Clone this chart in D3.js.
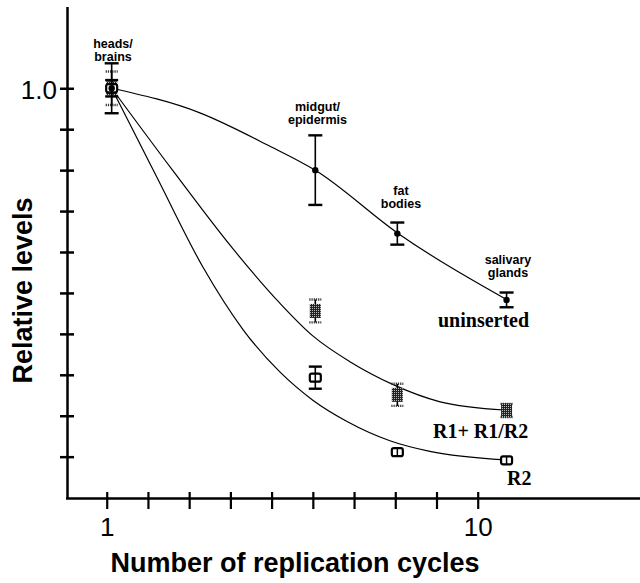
<!DOCTYPE html>
<html>
<head>
<meta charset="utf-8">
<script src="https://cdn.jsdelivr.net/npm/d3@7"></script>
<style>
  body { margin: 0; background: #fff; }
  svg { display: block; }
</style>
</head>
<body>
<svg id="chart" width="640" height="583"></svg>
<script>
// tissues and the replication cycles they sit at
const tissues = ["heads/brains", "midgut/epidermis", "fat bodies", "salivary glands"];
const cycles = [1.12, 6.06, 8.05, 10.7];

// measured relative levels (+/- error) per series
const uninsertedVals = [1.0, 0.80, 0.645, 0.483];
const uninsertedErr = [0.061, 0.085, 0.027, 0.018];
const r1Vals = [1.0, 0.456, 0.251, 0.213];
const r1Err = [0.041, 0.028, 0.027, 0.016];
const r2Vals = [1.0, 0.293, 0.111, 0.091];
const r2Err = [0.02, 0.027, 0, 0];

// fitted curves
const uninsertedFitX = [1.12, 3.26, 4.89, 6.07, 8.06, 10.73];
const uninsertedFitY = [1.0, 0.940, 0.862, 0.799, 0.646, 0.482];
const r1FitX = [1.12, 2.61, 4.06, 5.20, 6.00, 6.90, 7.95, 9.09, 10.66];
const r1FitY = [1.0, 0.798, 0.608, 0.475, 0.395, 0.332, 0.276, 0.234, 0.214];
const r2FitX = [1.12, 2.22, 3.34, 4.31, 5.20, 6.00, 6.83, 7.87, 8.84, 10.66];
const r2FitY = [1.0, 0.782, 0.562, 0.410, 0.307, 0.238, 0.186, 0.139, 0.113, 0.092];

const xTicks = [1, 2, 3, 4, 5, 6, 7, 8, 9, 10];
const yTicks = [0.1, 0.2, 0.3, 0.4, 0.5, 0.6, 0.7, 0.8, 0.9, 1.0];

const zip = (xs, ys) => xs.map((d, i) => ({x: d, y: ys[i]}));

const buildVis = (svg_name) => {
    let chart = d3.select(svg_name);
    let x = d3.scaleLinear().domain([0, 14]).range([65.5, 642.6]);
    let y = d3.scaleLinear().domain([0, 1.2]).range([497.6, 6.4]);

    let defs = chart.append("defs");
    let pat = defs.append("pattern")
        .attr("id", "grain")
        .attr("width", 2).attr("height", 2)
        .attr("patternUnits", "userSpaceOnUse");
    pat.append("rect").attr("width", 2).attr("height", 2).attr("fill", "#222");
    pat.append("rect").attr("width", 1).attr("height", 1).attr("fill", "#bbb");

    // axes
    let y_axis = d3.axisLeft(y).tickValues(yTicks).tickSizeInner(7).tickSizeOuter(0)
        .tickFormat((d) => d === 1 ? "1.0" : "");
    let yg = chart.append("g").attr("transform", "translate(67,0)").call(y_axis);
    yg.selectAll(".tick line").attr("x1", 7).attr("x2", -7).attr("stroke-width", 2.5);
    yg.select(".domain").attr("stroke-width", 2.5);
    yg.selectAll("text")
        .attr("font-family", "Liberation Sans, Arial, sans-serif")
        .attr("font-size", 26).attr("dy", "0.38em").attr("fill", "#000");

    let x_axis = d3.axisBottom(x).tickValues(xTicks).tickSizeInner(11).tickSizeOuter(0)
        .tickPadding(9).tickFormat((d) => (d === 1 || d === 10) ? d : "");
    let xg = chart.append("g").attr("transform", "translate(0,498)").call(x_axis);
    xg.selectAll(".tick line").attr("y1", -6).attr("y2", 11).attr("stroke-width", 2.2);
    xg.select(".domain").attr("stroke-width", 2.5);
    xg.selectAll("text")
        .attr("font-family", "Liberation Sans, Arial, sans-serif")
        .attr("font-size", 26).attr("fill", "#000");

    chart.append("text")
        .attr("transform", "translate(31.5,290.5) rotate(-90)")
        .style("text-anchor", "middle")
        .style("font-weight", "bold")
        .attr("font-family", "Liberation Sans, Arial, sans-serif")
        .attr("font-size", 27)
        .text("Relative levels");

    chart.append("text")
        .attr("x", 295).attr("y", 572)
        .style("text-anchor", "middle")
        .style("font-weight", "bold")
        .attr("font-family", "Liberation Sans, Arial, sans-serif")
        .attr("font-size", 27)
        .text("Number of replication cycles");

    // fitted curves
    let line = d3.line().x((d) => x(d.x)).y((d) => y(d.y)).curve(d3.curveMonotoneX);
    [zip(uninsertedFitX, uninsertedFitY), zip(r1FitX, r1FitY), zip(r2FitX, r2FitY)].forEach((fit) => {
        chart.append("path").attr("d", line(fit))
            .attr("fill", "none").attr("stroke", "#000").attr("stroke-width", 1.2);
    });

    const errBars = (vals, errs, capW, dashed) => {
        let g = chart.append("g");
        vals.forEach((v, i) => {
            let e = errs[i];
            if (e <= 0) return;
            let cx = x(cycles[i]);
            g.append("line").attr("x1", cx).attr("x2", cx)
                .attr("y1", y(v - e)).attr("y2", y(v + e))
                .attr("stroke", "#000").attr("stroke-width", 1.6);
            [v - e, v + e].forEach((t) => {
                g.append("line").attr("x1", cx - capW / 2).attr("x2", cx + capW / 2)
                    .attr("y1", y(t)).attr("y2", y(t))
                    .attr("stroke", dashed ? "#333" : "#000")
                    .attr("stroke-width", 2.4)
                    .attr("stroke-dasharray", dashed ? "1.2,1" : null);
            });
        });
    };

    // R1 + R1/R2 : grainy grey blocks
    errBars(r1Vals, r1Err, 12, true);
    chart.append("g").selectAll("rect")
        .data(r1Vals).enter().append("rect")
        .attr("x", (d, i) => x(cycles[i]) - 5.5)
        .attr("y", (d) => y(d) - 7)
        .attr("width", 11).attr("height", 14)
        .attr("fill", "url(#grain)");

    // R2 : open boxes split in the middle
    errBars(r2Vals, r2Err, 13, false);
    let r2g = chart.append("g");
    r2Vals.forEach((v, i) => {
        let cx = x(cycles[i]), cy = y(v);
        r2g.append("rect").attr("x", cx - 5.5).attr("y", cy - 4).attr("width", 11).attr("height", 8)
            .attr("rx", 2).attr("fill", "#fff").attr("stroke", "#000").attr("stroke-width", 2.2);
        r2g.append("line").attr("x1", cx).attr("x2", cx).attr("y1", cy - 4).attr("y2", cy + 4)
            .attr("stroke", "#000").attr("stroke-width", 1.5);
    });

    // uninserted : black dots
    errBars(uninsertedVals, uninsertedErr, 14, false);
    chart.append("g").selectAll("circle")
        .data(uninsertedVals).enter().append("circle")
        .attr("cx", (d, i) => x(cycles[i]))
        .attr("cy", (d) => y(d))
        .attr("r", 3.2).attr("fill", "#000");

    // tissue labels, two lines each
    const tissuePos = [[113, 47.5], [317.5, 111], [401, 195], [508, 263.5]];
    tissues.forEach((t, i) => {
        let parts = t.indexOf("/") >= 0 ? [t.split("/")[0] + "/", t.split("/")[1]] : t.split(" ");
        parts.forEach((p, k) => {
            chart.append("text")
                .attr("x", tissuePos[i][0]).attr("y", tissuePos[i][1] + k * 13)
                .attr("font-family", "Liberation Sans, Arial, sans-serif")
                .attr("font-size", 12.5).style("font-weight", "bold")
                .style("text-anchor", "middle")
                .text(p);
        });
    });

    // series labels
    const seriesLabels = [["uninserted", 438, 327], ["R1+ R1/R2", 433, 438], ["R2", 507, 485]];
    seriesLabels.forEach((s) => {
        chart.append("text").attr("x", s[1]).attr("y", s[2])
            .attr("font-family", "Liberation Serif, Times New Roman, serif")
            .attr("font-size", 20).style("font-weight", "bold")
            .text(s[0]);
    });
}

buildVis("#chart");
</script>
</body>
</html>
